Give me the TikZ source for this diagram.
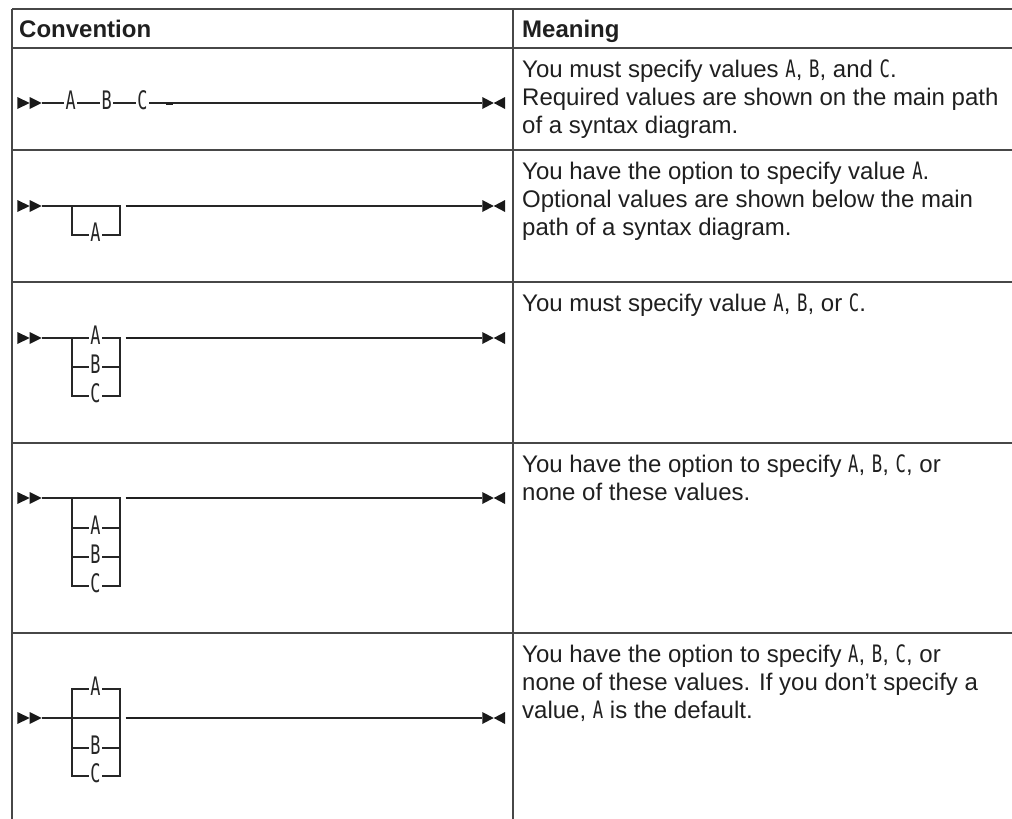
\documentclass[tikz,border=0pt]{standalone}
\usepackage{fontspec}
\setmainfont{Liberation Sans}
\newfontfamily\cf{DejaVu Sans Mono}[FakeStretch=0.72]
\newfontfamily\cfd{DejaVu Sans Mono}[FakeStretch=0.66]
\begin{document}
\begin{tikzpicture}[x=1pt,y=-1pt,
  grid/.style={line width=1.4pt, draw=black!72},
  rail/.style={line width=1.15pt, draw=black!85},
  heavy/.style={line width=2pt, draw=black!88},
  tipfill/.style={fill=black!90, draw=none},
  kw/.style={font=\cfd\fontsize{25.5}{28}\selectfont, text=black!85, fill=white, inner xsep=1.6pt, inner ysep=0pt, anchor=base},
  txt/.style={font=\fontsize{24}{28}\selectfont, text=black!88, inner sep=0pt, anchor=base west},
  hd/.style={txt, font=\bfseries\fontsize{24}{28}\selectfont},
  startmk/.pic={\fill[tipfill] (-24.4,-6) -- (-12,0) -- (-24.4,6) -- cycle;
                \fill[tipfill] (-12,-6) -- (0,0) -- (-12,6) -- cycle;},
  endmk/.pic={\fill[tipfill] (0,-6) -- (11.4,0) -- (0,6) -- cycle;
              \fill[tipfill] (22.8,-6) -- (11.4,0) -- (22.8,6) -- cycle;},
]
\useasboundingbox (0,0) rectangle (1012,819);
\newcommand{\mv}{\cf}

% ---------- table grid ----------
\coordinate (tl) at (12,9);   \coordinate (tr) at (1012,9);
\coordinate (hl) at (12,48);  \coordinate (hr) at (1012,48);
\coordinate (r1l) at (12,150); \coordinate (r1r) at (1012,150);
\coordinate (r2l) at (12,282); \coordinate (r2r) at (1012,282);
\coordinate (r3l) at (12,443); \coordinate (r3r) at (1012,443);
\coordinate (r4l) at (12,633); \coordinate (r4r) at (1012,633);
\coordinate (bl) at (12,819);
\coordinate (dt) at (513,9);  \coordinate (db) at (513,819);
\draw[grid] (tl) -- (tr);
\draw[grid] (hl) -- (hr);
\draw[grid] (r1l) -- (r1r);
\draw[grid] (r2l) -- (r2r);
\draw[grid] (r3l) -- (r3r);
\draw[grid] (r4l) -- (r4r);
\draw[grid] (tl) -- (bl);
\draw[grid] (dt) -- (db);

% ---------- headers ----------
\node[hd] (hconv) at (19,37) {Convention};
\node[hd] (hmean) at (522,37) {Meaning};

% ---------- meanings ----------
\node[txt] (m1a) at (522,77) {You must specify values {\mv A}, {\mv B}, and {\mv C}.};
\node[txt] (m1b) at (522,105) {Required values are shown on the main path};
\node[txt] (m1c) at (522,133) {of a syntax diagram.};

\node[txt] (m2a) at (522,179) {You have the option to specify value {\mv A}.};
\node[txt] (m2b) at (522,207) {Optional values are shown below the main};
\node[txt] (m2c) at (522,235) {path of a syntax diagram.};

\node[txt] (m3a) at (522,311) {You must specify value {\mv A}, {\mv B}, or {\mv C}.};

\node[txt] (m4a) at (522,472) {You have the option to specify {\mv A}, {\mv B}, {\mv C}, or};
\node[txt] (m4b) at (522,500) {none of these values.};

\node[txt] (m5a) at (522,662) {You have the option to specify {\mv A}, {\mv B}, {\mv C}, or};
\node[txt] (m5b) at (522,690) {none of these values. If you don’t specify a};
\node[txt] (m5c) at (522,718) {value, {\mv A} is the default.};

% ---------- row 1: A B C required ----------
\coordinate (s1) at (41.7,103); \coordinate (e1) at (482.3,103);
\coordinate (k1a) at (166,103.6); \coordinate (k1b) at (172.5,103.6);
\pic at (s1) {startmk};
\pic at (e1) {endmk};
\draw[rail] (s1) -- (e1);
\draw[heavy] (k1a) -- (k1b);
\node[kw] (a1) at (70.8,109.8) {A};
\node[kw] (b1) at (106.7,109.8) {B};
\node[kw] (c1) at (142.5,109.8) {C};

% ---------- row 2: optional A ----------
\coordinate (s2) at (41.7,206); \coordinate (e2) at (482.3,206);
\coordinate (l2) at (72,206); \coordinate (r2) at (120,206);
\coordinate (l2a) at (72,235); \coordinate (r2a) at (120,235);
\coordinate (k2a) at (125.7,206); \coordinate (k2b) at (150,206);
\pic at (s2) {startmk};
\pic at (e2) {endmk};
\draw[rail] (s2) -- (r2);
\draw[rail] (r2) -- (l2) -- (l2a) -- (r2a) -- cycle;
\draw[heavy] (k2a) -- (k2b);
\draw[rail] (k2b) -- (e2);
\node[kw] (a2) at (95.5,241.8) {A};

% ---------- row 3: required choice ----------
\coordinate (s3) at (41.7,338); \coordinate (e3) at (482.3,338);
\coordinate (l3) at (72,338); \coordinate (r3) at (120,338);
\coordinate (l3b) at (72,367); \coordinate (r3b) at (120,367);
\coordinate (l3c) at (72,396); \coordinate (r3c) at (120,396);
\coordinate (k3a) at (125.7,338); \coordinate (k3b) at (150,338);
\pic at (s3) {startmk};
\pic at (e3) {endmk};
\draw[rail] (s3) -- (r3);
\draw[rail] (r3) -- (l3) -- (l3c) -- (r3c) -- cycle;
\draw[rail] (l3b) -- (r3b);
\draw[heavy] (k3a) -- (k3b);
\draw[rail] (k3b) -- (e3);
\node[kw] (a3) at (95.5,344.8) {A};
\node[kw] (b3) at (95.5,373.8) {B};
\node[kw] (c3) at (95.5,402.8) {C};

% ---------- row 4: optional choice ----------
\coordinate (s4) at (41.7,498); \coordinate (e4) at (482.3,498);
\coordinate (l4) at (72,498); \coordinate (r4) at (120,498);
\coordinate (l4a) at (72,528); \coordinate (r4a) at (120,528);
\coordinate (l4b) at (72,557); \coordinate (r4b) at (120,557);
\coordinate (l4c) at (72,586); \coordinate (r4c) at (120,586);
\coordinate (k4a) at (125.7,498); \coordinate (k4b) at (150,498);
\pic at (s4) {startmk};
\pic at (e4) {endmk};
\draw[rail] (s4) -- (r4);
\draw[rail] (r4) -- (l4) -- (l4c) -- (r4c) -- cycle;
\draw[rail] (l4a) -- (r4a);
\draw[rail] (l4b) -- (r4b);
\draw[heavy] (k4a) -- (k4b);
\draw[rail] (k4b) -- (e4);
\node[kw] (a4) at (95.5,534.8) {A};
\node[kw] (b4) at (95.5,563.8) {B};
\node[kw] (c4) at (95.5,592.8) {C};

% ---------- row 5: default choice ----------
\coordinate (s5) at (41.7,718); \coordinate (e5) at (482.3,718);
\coordinate (l5a) at (72,689); \coordinate (r5a) at (120,689);
\coordinate (l5b) at (72,748); \coordinate (r5b) at (120,748);
\coordinate (l5c) at (72,776); \coordinate (r5c) at (120,776);
\coordinate (r5) at (120,718);
\coordinate (k5a) at (125.7,718); \coordinate (k5b) at (150,718);
\pic at (s5) {startmk};
\pic at (e5) {endmk};
\draw[rail] (s5) -- (r5);
\draw[rail] (r5a) -- (l5a) -- (l5c) -- (r5c) -- cycle;
\draw[rail] (l5b) -- (r5b);
\draw[heavy] (k5a) -- (k5b);
\draw[rail] (k5b) -- (e5);
\node[kw] (a5) at (95.5,695.8) {A};
\node[kw] (b5) at (95.5,754.8) {B};
\node[kw] (c5) at (95.5,782.8) {C};
\end{tikzpicture}
\end{document}
